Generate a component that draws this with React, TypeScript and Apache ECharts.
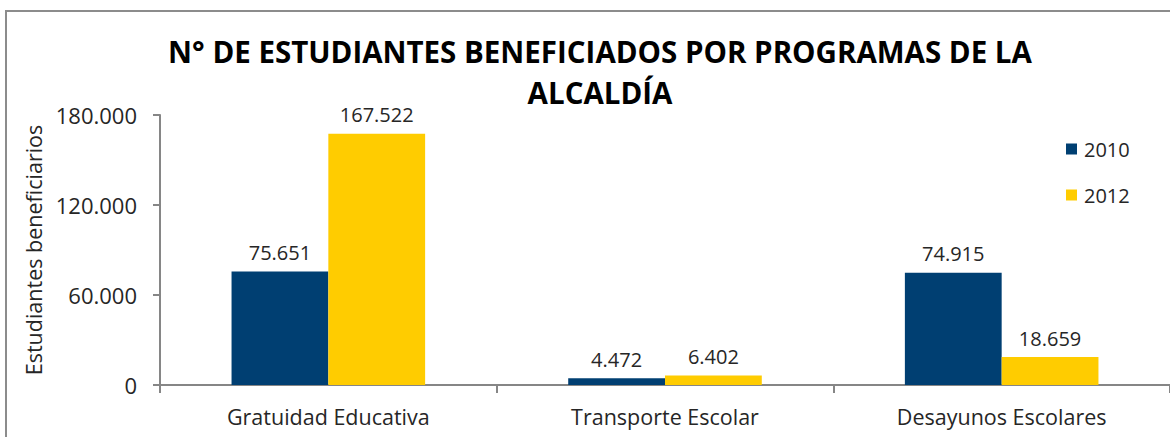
import React, { useEffect, useRef } from "react";
import * as echarts from "echarts";

const categories = ["Gratuidad Educativa", "Transporte Escolar", "Desayunos Escolares"];
const seriesNames = ["2010", "2012"];
const values2010 = [75651, 4472, 74915];
const values2012 = [167522, 6402, 18659];
const yTicks = { min: 0, max: 180000, interval: 60000 };
const titleText = "N° DE ESTUDIANTES BENEFICIADOS POR PROGRAMAS DE LA\nALCALDÍA";
const yAxisName = "Estudiantes beneficiarios";

const fmt = (v: number) => String(v).replace(/\B(?=(\d{3})+(?!\d))/g, ".");

const FONT = "Open Sans";
const TEXT = "#262626";
const AXIS = "#868686";

export default function App() {
  const ref = useRef<HTMLDivElement>(null);
  useEffect(() => {
    document.body.style.margin = "0";
    const chart = echarts.init(ref.current!, null, { renderer: "svg" });
    const label = {
      show: true,
      position: "top" as const,
      distance: 9,
      fontFamily: FONT,
      fontSize: 20,
      color: TEXT,
      formatter: (p: any) => fmt(p.value),
    };
    chart.setOption({
      animation: false,
      backgroundColor: "#ffffff",
      title: {
        text: titleText,
        left: 595,
        top: 26,
        textAlign: "center",
        textStyle: {
          fontFamily: FONT,
          fontWeight: "bold",
          fontSize: 29.5,
          lineHeight: 41,
          color: "#000000",
        },
      },
      graphic: [
        {
          type: "rect",
          shape: { x: 6, y: 11, width: 1175, height: 440 },
          style: { fill: "none", stroke: "#8c8c8c", lineWidth: 2 },
          silent: true,
        },
      ],
      legend: {
        orient: "vertical",
        left: 1061,
        top: 134,
        itemWidth: 11,
        itemHeight: 11,
        itemGap: 26,
        icon: "rect",
        textStyle: { fontFamily: FONT, fontSize: 20, color: TEXT, padding: [0, 0, 0, 2] },
        data: seriesNames,
      },
      grid: { left: 160, right: 0, top: 115, bottom: 52, containLabel: false },
      xAxis: {
        type: "category",
        data: categories,
        axisLine: { lineStyle: { color: AXIS, width: 2 } },
        axisTick: { show: true, alignWithLabel: false, length: 8, lineStyle: { color: AXIS, width: 2 } },
        axisLabel: { fontFamily: FONT, fontSize: 21.5, color: TEXT, margin: 20 },
      },
      yAxis: {
        type: "value",
        min: yTicks.min,
        max: yTicks.max,
        interval: yTicks.interval,
        name: yAxisName,
        nameLocation: "middle",
        nameRotate: 90,
        nameGap: 112,
        nameTextStyle: { fontFamily: FONT, fontSize: 21.5, color: TEXT },
        axisLine: { show: true, lineStyle: { color: AXIS, width: 2 } },
        axisTick: { show: true, inside: false, length: 7, lineStyle: { color: AXIS, width: 2 } },
        axisLabel: { fontFamily: FONT, fontSize: 22, color: TEXT, margin: 23, formatter: (v: number) => fmt(v) },
        splitLine: { show: false },
      },
      series: [
        {
          name: seriesNames[0],
          type: "bar",
          data: values2010,
          barGap: "0%",
          barCategoryGap: "42.5%",
          itemStyle: { color: "#003F72" },
          label,
        },
        {
          name: seriesNames[1],
          type: "bar",
          data: values2012,
          barGap: "0%",
          barCategoryGap: "42.5%",
          itemStyle: { color: "#FFCC00" },
          label,
        },
      ],
    });
    return () => chart.dispose();
  }, []);
  return (
    <div
      ref={ref}
      style={{ position: "absolute", left: 0, top: 0, width: 1170, height: 437 }}
    />
  );
}
